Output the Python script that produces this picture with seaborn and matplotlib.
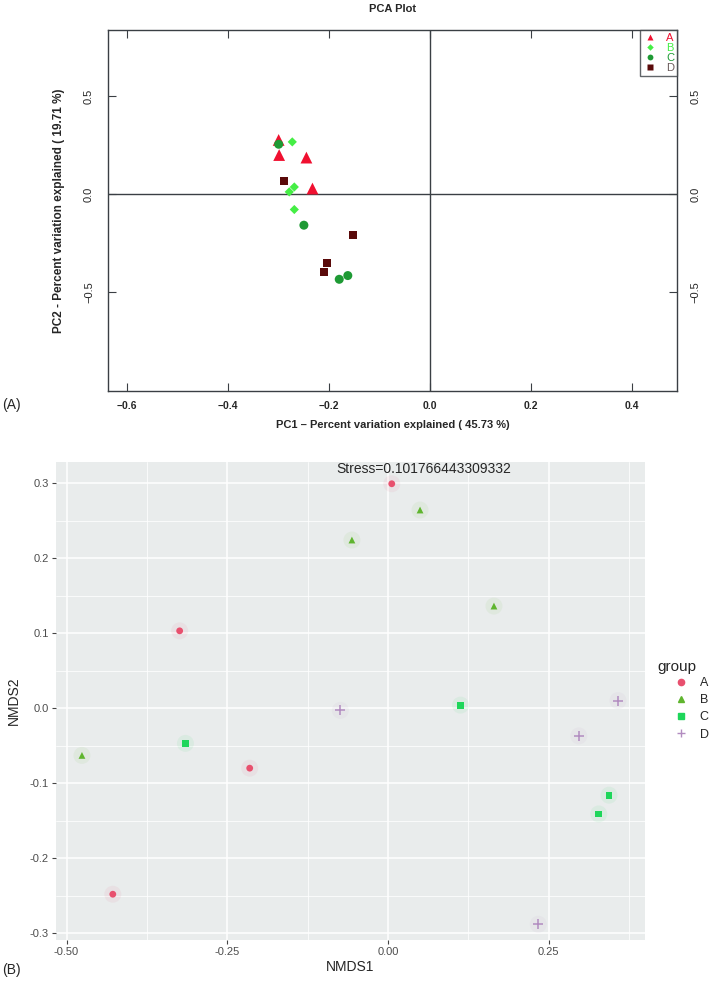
import matplotlib
matplotlib.use("Agg")
import matplotlib.pyplot as plt
from matplotlib import font_manager
from matplotlib.lines import Line2D
import numpy as np
import pandas as pd
import seaborn as sns

# ---------------- data ----------------
pca_group = ["A"] * 4 + ["B"] * 4 + ["C"] * 4 + ["D"] * 4
pca_pc1 = [-0.300, -0.299, -0.245, -0.233,
           -0.273, -0.269, -0.279, -0.269,
           -0.300, -0.250, -0.180, -0.163,
           -0.289, -0.153, -0.204, -0.210]
pca_pc2 = [0.278, 0.201, 0.188, 0.030,
           0.268, 0.038, 0.013, -0.077,
           0.256, -0.157, -0.433, -0.414,
           0.067, -0.208, -0.351, -0.394]

nmds_group = ["A"] * 4 + ["B"] * 4 + ["C"] * 4 + ["D"] * 4
nmds1 = [0.006, -0.324, -0.215, -0.428,
         0.050, -0.056, 0.165, -0.476,
         0.113, -0.315, 0.344, 0.328,
         -0.074, 0.358, 0.297, 0.234]
nmds2 = [0.299, 0.103, -0.080, -0.248,
         0.264, 0.224, 0.136, -0.063,
         0.004, -0.047, -0.116, -0.141,
         -0.003, 0.010, -0.037, -0.288]

groups = ["A", "B", "C", "D"]
pca_xticks = [-0.6, -0.4, -0.2, 0.0, 0.2, 0.4]
pca_yticks = [-0.5, 0.0, 0.5]
nmds_xticks = [-0.50, -0.25, 0.00, 0.25]
nmds_yticks = [-0.3, -0.2, -0.1, 0.0, 0.1, 0.2, 0.3]
stress_text = "Stress=0.101766443309332"

df_pca = pd.DataFrame({"PC1": pca_pc1, "PC2": pca_pc2, "group": pca_group})
df_nmds = pd.DataFrame({"NMDS1": nmds1, "NMDS2": nmds2, "group": nmds_group})

# ---------------- style ----------------
sns.set_theme(style="white")
names = {f.name for f in font_manager.fontManager.ttflist}
base_font = "Liberation Sans" if "Liberation Sans" in names else "DejaVu Sans"
narrow_font = "Liberation Sans Narrow" if "Liberation Sans Narrow" in names else base_font
plt.rcParams["font.family"] = [base_font, "DejaVu Sans"]

W, H = 710, 983
fig = plt.figure(figsize=(W / 100, H / 100), dpi=100)

def fr(l, t, r, b):
    return [l / W, 1 - b / H, (r - l) / W, (b - t) / H]

# ---------------- (A) PCA ----------------
ax1 = fig.add_axes(fr(108, 30, 677, 391))
pca_colors = {"A": "#F01030", "B": "#45EE45", "C": "#1E9A34", "D": "#5A0A0A"}
pca_markers = {"A": "^", "B": "D", "C": "o", "D": "s"}
pca_sizes = {"A": 72, "B": 22, "C": 42, "D": 34}
ax1.axhline(0, color="#3a3f44", lw=1.0, zorder=1)
ax1.axvline(0, color="#3a3f44", lw=1.0, zorder=1)
sns.scatterplot(data=df_pca, x="PC1", y="PC2", hue="group", style="group",
                size="group", sizes=pca_sizes, palette=pca_colors,
                markers=pca_markers, edgecolor="none", legend=False,
                ax=ax1, zorder=3)
ax1.set_xlim(-0.638, 0.489)
ax1.set_ylim(-1.003, 0.839)
ax1.set_xticks(pca_xticks)
ax1.set_xticklabels([f"{v:.1f}".replace("-", "\u2212") for v in pca_xticks],
                    fontsize=7.5, fontweight="bold")
ax1.set_yticks(pca_yticks)
ax1.set_yticklabels([f"{v:.1f}".replace("-", "\u2212") for v in pca_yticks],
                    rotation=90, va="center", fontsize=8, family=narrow_font)
ax1.tick_params(direction="in", length=6, width=0.8, color="#3a3f44",
                top=True, right=True, labelright=True, bottom=True, left=True)
ax1.tick_params(axis="x", pad=7)
ax1.tick_params(axis="y", pad=10)
for lab in ax1.get_yticklabels(which="both"):
    lab.set_rotation(90)
    lab.set_va("center")
for side in ["top", "right", "bottom", "left"]:
    ax1.spines[side].set_color("#3a3f44")
    ax1.spines[side].set_linewidth(1.0)
ax1.set_xlabel("PC1 \u2013 Percent variation explained ( 45.73 %)",
               fontsize=8, fontweight="bold", labelpad=7)
ax1.set_ylabel("PC2 - Percent variation explained ( 19.71 %)",
               fontsize=8.5, fontweight="bold", family=narrow_font, labelpad=14)
ax1.set_title("PCA Plot", fontsize=8, fontweight="bold", pad=13)

handles = [Line2D([0], [0], marker=pca_markers[g], color="none",
                  markerfacecolor=pca_colors[g], markeredgecolor="none",
                  markersize={"A": 5, "B": 3.3, "C": 4.2, "D": 4.2}[g]) for g in groups]
leg1 = ax1.legend(handles, groups, loc="upper right", bbox_to_anchor=(1, 1),
                  borderaxespad=0, frameon=True, fancybox=False,
                  edgecolor="#3a3f44", handlelength=1.3, handletextpad=0.8,
                  labelspacing=0.0, fontsize=8, borderpad=0.25,
                  labelcolor=[pca_colors[g] if g != "D" else "#6a5a5a" for g in groups])
leg1.get_frame().set_linewidth(1.0)

fig.text(2 / W, 1 - 405 / H, "(A)", fontsize=10, va="center", ha="left")

# ---------------- (B) NMDS ----------------
ax2 = fig.add_axes(fr(55.6, 462, 645, 940))
nmds_colors = {"A": "#E8506E", "B": "#5FB52E", "C": "#1ED65A", "D": "#B28CC0"}
nmds_markers = {"A": "o", "B": "^", "C": "s", "D": "+"}
ax2.set_facecolor("#E9ECEC")
for v in nmds_xticks:
    ax2.axvline(v, color="white", lw=1.1, zorder=0)
for v in [-0.375, -0.125, 0.125, 0.375]:
    ax2.axvline(v, color="white", lw=0.55, zorder=0)
for v in nmds_yticks:
    ax2.axhline(v, color="white", lw=1.1, zorder=0)
for v in [-0.25, -0.15, -0.05, 0.05, 0.15, 0.25]:
    ax2.axhline(v, color="white", lw=0.55, zorder=0)

# faint halo behind each point
sns.scatterplot(data=df_nmds, x="NMDS1", y="NMDS2", hue="group",
                palette=nmds_colors, s=150, alpha=0.07, edgecolor="none",
                legend=False, ax=ax2, zorder=2)
filled = df_nmds[df_nmds["group"] != "D"]
sns.scatterplot(data=filled, x="NMDS1", y="NMDS2", hue="group", style="group",
                palette={g: nmds_colors[g] for g in ["A", "B", "C"]},
                markers={g: nmds_markers[g] for g in ["A", "B", "C"]},
                s=24, edgecolor="none", legend=False, ax=ax2, zorder=3)
plus = df_nmds[df_nmds["group"] == "D"]
sns.scatterplot(data=plus, x="NMDS1", y="NMDS2", marker="+",
                color=nmds_colors["D"], s=45, linewidth=1.1,
                legend=False, ax=ax2, zorder=3)
ax2.set_xlim(-0.517, 0.400)
ax2.set_ylim(-0.309, 0.328)
ax2.set_xticks(nmds_xticks)
ax2.set_xticklabels([f"{v:.2f}" for v in nmds_xticks])
ax2.set_yticks(nmds_yticks)
ax2.set_yticklabels([f"{v:.1f}" for v in nmds_yticks])
ax2.tick_params(direction="out", length=3, width=0.8, color="#444444",
                labelsize=8, labelcolor="#4D4D4D", pad=2,
                bottom=True, left=True)
for s in ax2.spines.values():
    s.set_visible(False)
ax2.set_xlabel("NMDS1", fontsize=10, labelpad=2)
ax2.set_ylabel("NMDS2", fontsize=10, family=narrow_font, labelpad=6)
ax2.text(0.056, 0.999, stress_text, transform=ax2.get_xaxis_transform(),
         ha="center", va="top", fontsize=10)

leg_handles = [Line2D([0], [0], marker=nmds_markers[g],
                      color="none", markerfacecolor=nmds_colors[g],
                      markeredgecolor=nmds_colors[g],
                      markersize=4.5 if g != "D" else 6,
                      markeredgewidth=1.0) for g in groups]
fig.text(657 / W, 1 - 667 / H, "group", fontsize=11, va="center", ha="left")
leg2 = fig.legend(leg_handles, groups, loc="upper left",
                  bbox_to_anchor=(671 / W, 1 - 677 / H), frameon=False,
                  fontsize=9, handlelength=1.6, borderpad=0, borderaxespad=0,
                  handletextpad=0.7, labelspacing=0.42)

fig.text(2 / W, 1 - 970 / H, "(B)", fontsize=10, va="center", ha="left")

fig.savefig("out.png", dpi=100)
